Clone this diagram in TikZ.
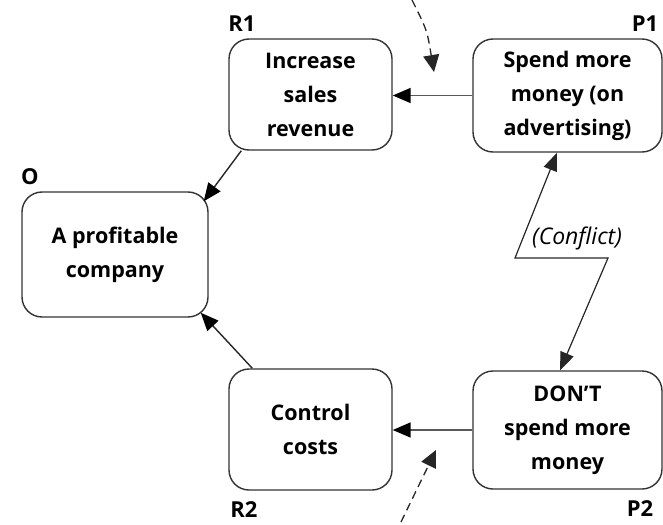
\documentclass[tikz,border=0pt]{standalone}
\usepackage{fontspec}
\setmainfont{Open Sans}
\usetikzlibrary{arrows.meta}

\tikzset{
  goalbox/.style={draw=black!80, line width=1.4pt, rounded corners=20pt,
    align=center, inner sep=0pt, font=\bfseries\fontsize{21.5}{34}\selectfont},
  tag/.style={inner sep=0pt, font=\bfseries\fontsize{22}{24}\selectfont},
  head/.style={-{Triangle[length=18pt,width=15pt,color=black]}},
  link/.style={head, draw=black!85, line width=1.4pt},
  flow/.style={head, draw=black!65, line width=1.6pt},
  clash/.style={draw=black!85, line width=1.2pt,
    {Triangle[length=18pt,width=14pt]}-{Triangle[length=18pt,width=14pt]}},
  hint/.style={draw=black!85, line width=1.3pt, dash pattern=on 8pt off 5pt,
    -{Triangle[length=17pt,width=16pt]}}
}

\begin{document}
\begin{tikzpicture}[x=1pt,y=-1pt]
  \useasboundingbox (0,0) rectangle (663,524);

  % goal, requirements and prerequisites
  \node[goalbox, minimum width=186pt, minimum height=125pt] (O)  at (115,254.5) {A profitable\\company};
  \node[goalbox, minimum width=163pt, minimum height=111pt] (R1) at (310.5,94.5) {Increase\\sales\\revenue};
  \node[goalbox, minimum width=189pt, minimum height=113pt] (P1) at (567.5,95.5) {Spend more\\money (on\\advertising)};
  \node[goalbox, minimum width=163pt, minimum height=121pt] (R2) at (310.5,429.5) {Control\\costs};
  \node[goalbox, minimum width=189pt, minimum height=118pt] (P2) at (567.5,430) {DON’T\\spend more\\money};

  % box tags
  \node[tag] (tO)  at (30,177)  {O};
  \node[tag] (tR1) at (242,24)  {R1};
  \node[tag] (tP1) at (645,24)  {P1};
  \node[tag] (tR2) at (244,510) {R2};
  \node[tag] (tP2) at (640,509) {P2};

  % necessity arrows
  \draw[flow] (P1.west) -- (P1.west -| R1.east);
  \draw[flow] (P2.west) -- (P2.west -| R2.east);
  \draw[link] ([xshift=13pt]R1.south west) -- ([xshift=-5pt,yshift=-10pt]O.north east);
  \draw[link] ([xshift=24pt]R2.north west) -- ([xshift=-8pt,yshift=5pt]O.south east);

  % conflict between the prerequisites
  \coordinate (zA) at (515,258);
  \coordinate (zB) at (608,258);
  \draw[clash] ([xshift=-10.5pt]P1.south) -- (zA) -- (zB) -- ([xshift=-7.5pt]P2.north);
  \node[inner sep=0pt, font=\itshape\fontsize{23}{26}\selectfont] (conflict) at (577,238) {(Conflict)};

  % assumptions pointing at the arrows
  \coordinate (a1s) at (412,0);
  \coordinate (a1e) at (434,72);
  \coordinate (a2s) at (401,522);
  \coordinate (a2e) at (436,450);
  \draw[hint] (a1s) .. controls (427,30) .. (a1e);
  \draw[hint] (a2s) -- (a2e);
\end{tikzpicture}
\end{document}
